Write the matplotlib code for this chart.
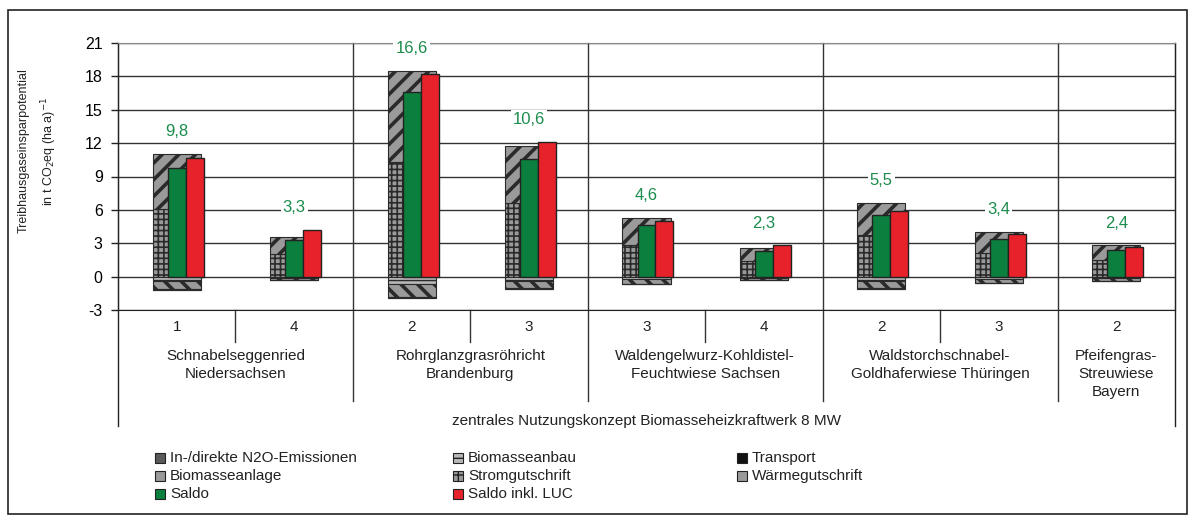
import matplotlib
matplotlib.use('Agg')
import matplotlib.pyplot as plt
import matplotlib.transforms as mtransforms
from matplotlib.patches import Rectangle
import numpy as np

plt.rcParams['font.family'] = ['Liberation Sans', 'DejaVu Sans']
plt.rcParams['axes.unicode_minus'] = False

# --- data -------------------------------------------------------------
sub_labels = ['1', '4', '2', '3', '3', '4', '2', '3', '2']
group_labels = ['Schnabelseggenried\nNiedersachsen',
                'Rohrglanzgrasröhricht\nBrandenburg',
                'Waldengelwurz-Kohldistel-\nFeuchtwiese Sachsen',
                'Waldstorchschnabel-\nGoldhaferwiese Thüringen',
                'Pfeifengras-\nStreuwiese\nBayern']
group_sizes = [2, 2, 2, 2, 1]
concept_label = 'zentrales Nutzungskonzept Biomasseheizkraftwerk 8 MW'

stromgutschrift = [6.1, 2.0, 10.3, 6.6, 2.8, 1.4, 3.7, 2.1, 1.5]
waermegutschrift = [4.9, 1.6, 8.2, 5.1, 2.5, 1.2, 2.9, 1.9, 1.3]
biomasseanbau = [-0.35, -0.1, -0.7, -0.4, -0.25, -0.1, -0.4, -0.2, -0.15]
biomasseanlage = [-0.8, -0.18, -1.15, -0.66, -0.42, -0.18, -0.66, -0.37, -0.22]
transport = [-0.02, -0.01, -0.03, -0.02, -0.01, -0.01, -0.02, -0.01, -0.01]
n2o = [-0.03, -0.01, -0.02, -0.02, -0.02, -0.01, -0.02, -0.02, -0.02]
saldo = [9.8, 3.3, 16.6, 10.6, 4.6, 2.3, 5.5, 3.4, 2.4]
saldo_luc = [10.7, 4.2, 18.2, 12.1, 5.0, 2.8, 5.9, 3.8, 2.7]

W, H = 1195, 523
fig = plt.figure(figsize=(W / 100, H / 100), dpi=100)


def fx(p):
    return p / W


def fy(p):
    return 1 - p / H


ax_top, ax_bot = 43, 310
ax = fig.add_axes([fx(118), fy(ax_bot), (1175 - 118) / W, (ax_bot - ax_top) / H])
ax_h = ax_bot - ax_top

x = np.arange(len(saldo)) + 0.5
gw = 0.41
sw = 0.153

# style per component: (label, face, hatch, hatch linewidth)
styles = {
    'n2o': ('In-/direkte N2O-Emissionen', '#5a5a5a', None, 1.0),
    'anbau': ('Biomasseanbau', '#b8b8b8', '---', 1.0),
    'transport': ('Transport', '#111111', None, 1.0),
    'anlage': ('Biomasseanlage', '#9a9a9a', '\\\\', 2.6),
    'strom': ('Stromgutschrift', '#9a9a9a', '+++', 1.2),
    'waerme': ('Wärmegutschrift', '#9a9a9a', '//', 2.6),
}


def stacked(key, values, bottom):
    label, face, hatch, hlw = styles[key]
    plt.rcParams['hatch.linewidth'] = hlw
    bars = ax.bar(x, values, width=gw, bottom=bottom, color=face,
                  edgecolor='#2a2a2a', hatch=hatch, linewidth=0.8, zorder=2)
    for b in bars:
        if hasattr(b, 'set_hatch_linewidth'):
            b.set_hatch_linewidth(hlw)
    return np.array(bottom) + np.array(values)


pos = np.zeros(len(x))
pos = stacked('strom', stromgutschrift, pos)
pos = stacked('waerme', waermegutschrift, pos)
neg = np.zeros(len(x))
neg = stacked('anbau', biomasseanbau, neg)
neg = stacked('anlage', biomasseanlage, neg)
neg = stacked('transport', transport, neg)
neg = stacked('n2o', n2o, neg)

green = '#0b7f3d'
red = '#e8222a'
ax.bar(x, saldo, width=sw, color=green, edgecolor='#222222', linewidth=1, zorder=3)
ax.bar(x + sw, saldo_luc, width=sw, color=red, edgecolor='#222222', linewidth=1, zorder=3)

top = np.maximum(pos, saldo_luc)
for xi, t, s in zip(x, top, saldo):
    ax.text(xi, t + 2.0, f'{s:.1f}'.replace('.', ','), ha='center', va='center',
            color='#1c8c4c', fontsize=12, zorder=4,
            bbox=dict(facecolor='white', edgecolor='none', pad=1.5))

ax.set_xlim(0, 9)
ax.set_ylim(-3, 21)
ax.set_yticks(range(-3, 22, 3))
ax.tick_params(axis='y', labelsize=11.5, length=5, width=1, color='#222222', pad=6)
ax.set_xticks([])
ax.yaxis.grid(True, color='#333333', linewidth=1)
ax.set_axisbelow(True)
for side in ['left', 'bottom', 'right']:
    ax.spines[side].set_color('#222222')
ax.spines['top'].set_color('#8a8a8a')

# group separators and category axis below the plot
edges = np.cumsum(group_sizes)
for e in edges[:-1]:
    ax.axvline(e, ymin=-(401 - ax_bot) / ax_h, ymax=1, color='#333333', lw=1, clip_on=False, zorder=1)
for e in [0, 9]:
    ax.axvline(e, ymin=-(426 - ax_bot) / ax_h, ymax=1, color='#222222', lw=1, clip_on=False)
start = 0
for g in group_sizes:
    for k in range(1, g):
        ax.axvline(start + k, ymin=-(342 - ax_bot) / ax_h, ymax=0, color='#333333', lw=1, clip_on=False)
    start += g

tr = mtransforms.blended_transform_factory(ax.transData, fig.transFigure)
for xi, s in zip(x, sub_labels):
    ax.text(xi, fy(327), s, transform=tr, ha='center', va='center', fontsize=11, color='#222222')
start = 0
for g, lab in zip(group_sizes, group_labels):
    ax.text(start + g / 2, fy(349), lab, transform=tr, ha='center', va='top',
            fontsize=11, color='#222222', linespacing=1.35)
    start += g
ax.text(4.5, fy(421), concept_label, transform=tr, ha='center', va='center',
        fontsize=11, color='#222222')

# y axis title
fig.text(fx(24), fy(151), 'Treibhausgaseinsparpotential', rotation=90,
         ha='center', va='center', fontsize=9, color='#222222')
fig.text(fx(49), fy(151), 'in t CO$_2$eq (ha a)$^{-1}$', rotation=90,
         ha='center', va='center', fontsize=9, color='#222222')

# legend
legend_items = [
    (155, 458, 'n2o'), (155, 476, 'anlage'), (155, 494, 'saldo'),
    (453, 458, 'anbau'), (453, 476, 'strom'), (453, 494, 'luc'),
    (737, 458, 'transport'), (737, 476, 'waerme'),
]
for px, py, key in legend_items:
    if key == 'saldo':
        label, face, hatch = 'Saldo', green, None
    elif key == 'luc':
        label, face, hatch = 'Saldo inkl. LUC', red, None
    else:
        label, face, hatch, _ = styles[key]
        hatch = None if hatch is None else hatch[0]
    plt.rcParams['hatch.linewidth'] = 1.0
    r = Rectangle((fx(px), fy(py + 5)), 10 / W, 10 / H, transform=fig.transFigure,
                  facecolor=face, edgecolor='#222222', hatch=hatch, lw=0.8)
    if hasattr(r, 'set_hatch_linewidth'):
        r.set_hatch_linewidth(1.0)
    fig.patches.append(r)
    fig.text(fx(px + 15), fy(py), label, ha='left', va='center', fontsize=11, color='#222222')

# outer frame
fig.patches.append(Rectangle((fx(8), fy(514)), (1187 - 8) / W, (514 - 10) / H,
                             transform=fig.transFigure, fill=False, edgecolor='#222222', lw=1.2))

fig.savefig('out.png', dpi=100)
